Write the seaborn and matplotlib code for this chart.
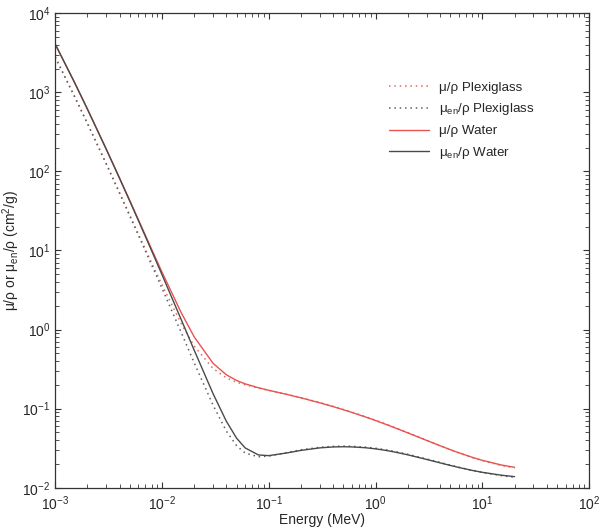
import numpy as np
import pandas as pd
import matplotlib
matplotlib.use("Agg")
import matplotlib.pyplot as plt
from matplotlib.ticker import LogLocator, NullFormatter
import seaborn as sns

# Photon energies (MeV)
energy = [1e-3, 1.5e-3, 2e-3, 3e-3, 4e-3, 5e-3, 6e-3, 8e-3, 1e-2, 1.5e-2, 2e-2,
          3e-2, 4e-2, 5e-2, 6e-2, 8e-2, 0.1, 0.15, 0.2, 0.3, 0.4, 0.5, 0.6, 0.8,
          1.0, 1.25, 1.5, 2.0, 3.0, 4.0, 5.0, 6.0, 8.0, 10.0, 15.0, 20.0]

# mass attenuation / energy-absorption coefficients (cm2/g)
mu_plexi = [2794, 915.7, 408.0, 126.2, 54.08, 27.91, 16.24, 6.963, 3.686, 1.214,
            0.6186, 0.3222, 0.2455, 0.2160, 0.2005, 0.1820, 0.1702, 0.1511, 0.1377,
            0.1195, 0.1069, 0.09761, 0.09027, 0.07928, 0.07132, 0.06376, 0.05802,
            0.04981, 0.03994, 0.03416, 0.03031, 0.02764, 0.02414, 0.02203, 0.01911,
            0.01784]
muen_plexi = [2788, 912.5, 405.7, 124.9, 53.09, 27.18, 15.67, 6.536, 3.328, 0.9452,
              0.3808, 0.1114, 0.05214, 0.03390, 0.02747, 0.02460, 0.02512, 0.02795,
              0.03014, 0.03247, 0.03336, 0.03357, 0.03342, 0.03263, 0.03159, 0.03017,
              0.02884, 0.02653, 0.02315, 0.02092, 0.01932, 0.01817, 0.01659, 0.01561,
              0.01424, 0.01355]
mu_water = [4078, 1376, 617.3, 192.9, 82.78, 42.58, 24.64, 10.37, 5.329, 1.673,
            0.8096, 0.3756, 0.2683, 0.2269, 0.2059, 0.1837, 0.1707, 0.1505, 0.1370,
            0.1186, 0.1061, 0.09687, 0.08956, 0.07865, 0.07072, 0.06323, 0.05754,
            0.04942, 0.03969, 0.03403, 0.03031, 0.02770, 0.02429, 0.02219, 0.01941,
            0.01813]
muen_water = [4065, 1372, 615.2, 191.7, 81.91, 41.88, 24.05, 9.915, 4.944, 1.374,
              0.5503, 0.1557, 0.06947, 0.04223, 0.03190, 0.02597, 0.02546, 0.02764,
              0.02967, 0.03192, 0.03279, 0.03299, 0.03284, 0.03206, 0.03103, 0.02965,
              0.02833, 0.02608, 0.02281, 0.02066, 0.01915, 0.01806, 0.01658, 0.01566,
              0.01441, 0.01382]

sns.set_style("ticks")
plt.rcParams["font.family"] = ["Liberation Sans", "DejaVu Sans"]
plt.rcParams["mathtext.fontset"] = "custom"
plt.rcParams["mathtext.rm"] = "Liberation Sans"
plt.rcParams["mathtext.it"] = "Liberation Sans"
plt.rcParams["mathtext.default"] = "regular"

fig = plt.figure(figsize=(6.0, 5.29), dpi=100)
ax = fig.add_axes([0.092, 0.078, 0.89, 0.897])

series = [
    (mu_plexi, "μ/ρ Plexiglass", "#e06a66", (0, (1, 2.5)), 1.1),
    (muen_plexi, "μ$_{en}$/ρ Plexiglass", "#606060", (0, (1, 2.5)), 1.1),
    (mu_water, "μ/ρ Water", "#e8534f", "-", 1.0),
    (muen_water, "μ$_{en}$/ρ Water", "#4a4a4a", "-", 1.0),
]
for vals, label, color, ls, lw in series:
    sns.lineplot(x=energy, y=vals, ax=ax, color=color, linestyle=ls, linewidth=lw,
                 label=label)

ax.set_xscale("log")
ax.set_yscale("log")
ax.set_xlim(1e-3, 1e2)
ax.set_ylim(1e-2, 1e4)

ax.xaxis.set_major_locator(LogLocator(base=10, numticks=10))
ax.xaxis.set_minor_locator(LogLocator(base=10, subs=np.arange(2, 10), numticks=20))
ax.yaxis.set_major_locator(LogLocator(base=10, numticks=10))
ax.yaxis.set_minor_locator(LogLocator(base=10, subs=np.arange(2, 10), numticks=20))
ax.xaxis.set_minor_formatter(NullFormatter())
ax.yaxis.set_minor_formatter(NullFormatter())

ax.tick_params(which="both", direction="in", top=True, right=True, labelsize=10,
               color="#333333")
ax.tick_params(which="major", length=4, width=0.8)
ax.tick_params(which="minor", length=3, width=0.6)
ax.tick_params(axis="x", pad=5)
for sp in ax.spines.values():
    sp.set_color("#333333")
    sp.set_linewidth(0.9)

ax.set_xlabel("Energy (MeV)", fontsize=10, labelpad=0)
ax.set_ylabel("μ/ρ or μ$_{en}$/ρ (cm$^2$/g)", fontsize=10)
ax.yaxis.set_label_coords(-0.062, 0.5)

leg = ax.legend(loc="upper right", bbox_to_anchor=(0.92, 0.882), frameon=False,
                fontsize=9.6, handlelength=3.0, labelspacing=0.58)

fig.savefig("out.png", dpi=100)
